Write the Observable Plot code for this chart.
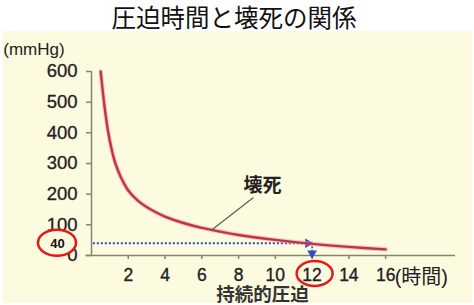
<!DOCTYPE html>
<html>
<head>
<meta charset="utf-8">
<script src="https://cdn.jsdelivr.net/npm/d3@7"></script>
<script src="https://cdn.jsdelivr.net/npm/@observablehq/plot@0.6"></script>
<style>
  body { margin: 0; background: #fff; }
  #wrap { position: relative; width: 474px; height: 305px; overflow: hidden; background: #fff; }
  #panel { position: absolute; left: 3px; top: 31px; width: 469px; height: 272px; background: #fcfadf; }
  #title { position: absolute; left: 0; top: 1px; width: 468px; height: 31px; text-align: center;
           font-family: "Noto Sans CJK JP", sans-serif; font-size: 24.5px; line-height: 31px; color: #111; }
  #chart { position: absolute; left: 0; top: 31px; }
</style>
</head>
<body>
<div id="wrap">
  <div id="panel"></div>
  <div id="title">圧迫時間と壊死の関係</div>
  <div id="chart"></div>
</div>
<script>
// ---- data ----
const hours    = [0.5, 0.7, 0.9, 1.1, 1.3, 1.6, 2.0, 2.5, 3.0, 3.5, 4.0, 5.0, 6.0, 7.0, 8.0, 10, 12, 14, 16];
const pressure = [600, 490, 405, 345, 300, 255, 212, 180, 158, 141, 127, 106, 90, 78, 67, 51, 38, 28, 20];
const xTicks = [2, 4, 6, 8, 10, 12, 14, 16];
const yTicks = [0, 100, 200, 300, 400, 500, 600];
const markTime = 12;      // hours
const markPressure = 40;  // mmHg
const curveLabel = "壊死";
const xUnit = "(時間)";
const yUnit = "(mmHg)";
const xTitle = "持続的圧迫";

const curve = hours.map((h, i) => ({hours: h, pressure: pressure[i]}));

const axisColor = "#85856f";
const curveColor = "#c0334b";
const blue = "#2b4fc4";
const red = "#e21a1a";
const bg = "#fcfadf";
const cjk = "'Noto Sans CJK JP', sans-serif";
const mixed = "'Liberation Sans', 'Noto Sans CJK JP', sans-serif";

// ellipse symbol for the red annotation circles
function ellipse(rx, ry) {
  const k = 0.5523;
  return {
    draw(ctx) {
      ctx.moveTo(rx, 0);
      ctx.bezierCurveTo(rx, ry * k, rx * k, ry, 0, ry);
      ctx.bezierCurveTo(-rx * k, ry, -rx, ry * k, -rx, 0);
      ctx.bezierCurveTo(-rx, -ry * k, -rx * k, -ry, 0, -ry);
      ctx.bezierCurveTo(rx * k, -ry, rx, -ry * k, rx, 0);
      ctx.closePath();
    }
  };
}

const chart = Plot.plot({
  width: 474,
  height: 274,
  marginLeft: 91,
  marginRight: 19,
  marginTop: 40,
  marginBottom: 50,
  x: {domain: [0, 19.8]},
  y: {domain: [0, 600]},
  style: {background: "transparent", overflow: "visible", fontFamily: "'Liberation Sans', Arial, sans-serif"},
  marks: [
    // axis lines
    Plot.ruleX([0], {y1: 0, y2: 600, stroke: axisColor, strokeWidth: 1.5}),
    Plot.ruleY([0], {x1: -0.3, x2: 19.8, stroke: axisColor, strokeWidth: 1.5}),
    Plot.axisY({ticks: yTicks, label: null, tickSize: 5, tickPadding: 9, fontSize: 18.5,
                fill: "#222", stroke: axisColor, strokeWidth: 1.5, textStroke: "#222", textStrokeWidth: 0.3}),
    Plot.axisX({ticks: xTicks, label: null, tickSize: 4, tickPadding: 9.5, fontSize: 17.5,
                fill: "#222", stroke: axisColor, strokeWidth: 1.5, textStroke: "#222", textStrokeWidth: 0.35}),
    // unit labels
    Plot.text([yUnit], {x: -4.8, y: 672, text: d => d, textAnchor: "start", fontSize: 17, fill: "#222"}),
    Plot.text([xUnit], {x: markTime + 4, y: 0, text: d => d, textAnchor: "start", dx: 9, dy: 22,
                        fontSize: 20, fontFamily: mixed, fill: "#222"}),
    Plot.text([xTitle], {x: 9.3, y: 0, text: d => d, dy: 39.5, fontSize: 18.5, fontWeight: "bold",
                         fontFamily: cjk, fill: "#333"}),
    // dotted guide from 40 mmHg to 12 h
    Plot.ruleY([markPressure], {x1: 0.1, x2: markTime - 0.35, stroke: blue, strokeWidth: 2, strokeDasharray: "2,2"}),
    Plot.ruleX([markTime], {y1: markPressure, y2: 9, stroke: blue, strokeWidth: 1.5, strokeDasharray: "2,1.5"}),
    Plot.dot([markPressure], {x: markTime - 0.22, y: d => d, symbol: "triangle", rotate: 90, r: 3.6, fill: blue, stroke: "none"}),
    Plot.dot([markTime], {x: d => d, y: 7, symbol: "triangle", rotate: 180, r: 3.6, fill: blue, stroke: "none"}),
    // curve
    Plot.line(curve, {x: "hours", y: "pressure", curve: "catmull-rom", stroke: "#e69aa2", strokeWidth: 4.5, strokeOpacity: 0.5}),
    Plot.line(curve, {x: "hours", y: "pressure", curve: "catmull-rom", stroke: curveColor, strokeWidth: 2.4}),
    // curve label + leader
    Plot.link([{x1: 8.81, y1: 189, x2: 6.57, y2: 85}], {x1: "x1", y1: "y1", x2: "x2", y2: "y2", stroke: "#5e5e4a", strokeWidth: 1.2}),
    Plot.text([curveLabel], {x: 9.3, y: 226, text: d => d, fontSize: 19, fontWeight: "bold", fontFamily: cjk, fill: "#222"}),
    // red annotation ellipses
    Plot.dot([markPressure], {x: 0, y: d => d, dx: -34.5, dy: -0.5, symbol: ellipse(19, 13), r: 10,
                              fill: bg, stroke: red, strokeWidth: 2.5}),
    Plot.text([markPressure], {x: 0, y: d => d, text: d => String(d), dx: -34, dy: 0.5, fontSize: 13,
                               fontWeight: "bold", fill: "#111"}),
    Plot.dot([markTime], {x: d => d, y: 0, dx: 2.5, dy: 18, symbol: ellipse(18, 12.5), r: 10,
                          fill: "none", stroke: red, strokeWidth: 2.5})
  ]
});
document.getElementById("chart").appendChild(chart);
</script>
</body>
</html>
